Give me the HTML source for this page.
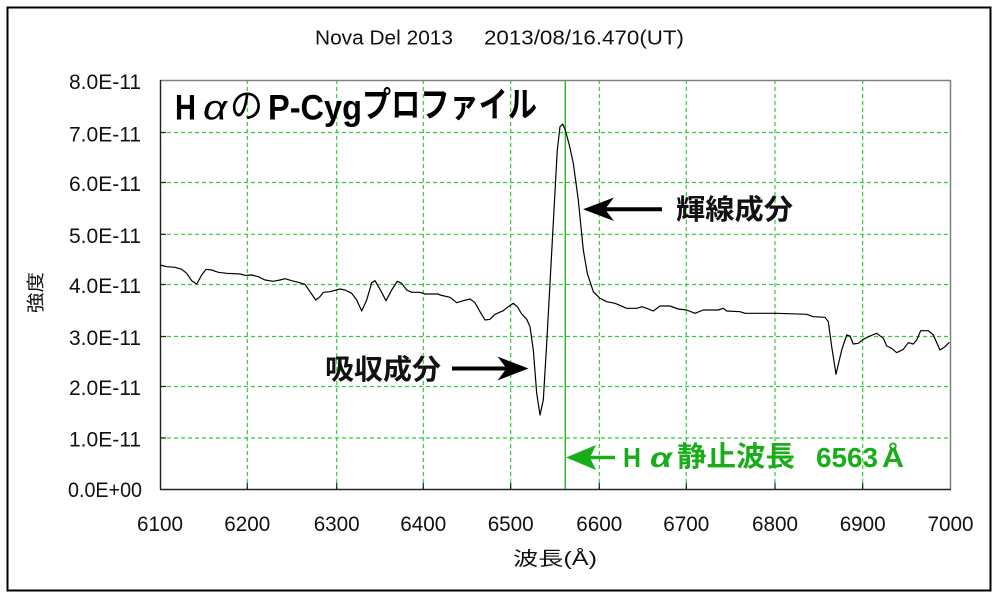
<!DOCTYPE html>
<html><head><meta charset="utf-8"><style>
html,body{margin:0;padding:0;background:#fff;}
svg{display:block;}
text{font-family:"Liberation Sans","Noto Sans CJK JP",sans-serif;}
</style></head><body>
<svg width="1000" height="600" viewBox="0 0 1000 600" xmlns="http://www.w3.org/2000/svg">
<rect x="0" y="0" width="1000" height="600" fill="#fff"/>
<rect x="7.5" y="7.5" width="983" height="583" fill="none" stroke="#000" stroke-width="2"/>

<!-- header -->
<text x="315" y="44.5" font-size="20" textLength="138" lengthAdjust="spacingAndGlyphs" fill="#111">Nova Del 2013</text>
<text x="484" y="44.5" font-size="20" textLength="200" lengthAdjust="spacingAndGlyphs" fill="#111">2013/08/16.470(UT)</text>

<!-- grid -->
<g stroke="#33cc33" stroke-width="1.2" stroke-dasharray="4,3" fill="none">
<line x1="160" y1="132.5" x2="950" y2="132.5"/>
<line x1="160" y1="182.5" x2="950" y2="182.5"/>
<line x1="160" y1="234.3" x2="950" y2="234.3"/>
<line x1="160" y1="284.5" x2="950" y2="284.5"/>
<line x1="160" y1="336.5" x2="950" y2="336.5"/>
<line x1="160" y1="386.5" x2="950" y2="386.5"/>
<line x1="160" y1="438" x2="950" y2="438"/>
<line x1="247.3" y1="80" x2="247.3" y2="489"/>
<line x1="336.7" y1="80" x2="336.7" y2="489"/>
<line x1="423.3" y1="80" x2="423.3" y2="489"/>
<line x1="510.7" y1="80" x2="510.7" y2="489"/>
<line x1="599.3" y1="80" x2="599.3" y2="489"/>
<line x1="686.3" y1="80" x2="686.3" y2="489"/>
<line x1="775" y1="80" x2="775" y2="489"/>
<line x1="862.7" y1="80" x2="862.7" y2="489"/>
</g>

<!-- frame -->
<line x1="160" y1="80.5" x2="950.5" y2="80.5" stroke="#808080" stroke-width="1.5"/>
<line x1="950.5" y1="80" x2="950.5" y2="489" stroke="#808080" stroke-width="1.5"/>
<line x1="160.5" y1="80" x2="160.5" y2="489.5" stroke="#222" stroke-width="1.4"/>
<line x1="160" y1="489.5" x2="951" y2="489.5" stroke="#222" stroke-width="1.4"/>

<!-- ticks -->
<g stroke="#222" stroke-width="1.2">
<line x1="160" y1="132.5" x2="166" y2="132.5"/>
<line x1="160" y1="182.5" x2="166" y2="182.5"/>
<line x1="160" y1="234.3" x2="166" y2="234.3"/>
<line x1="160" y1="284.5" x2="166" y2="284.5"/>
<line x1="160" y1="336.5" x2="166" y2="336.5"/>
<line x1="160" y1="386.5" x2="166" y2="386.5"/>
<line x1="160" y1="438" x2="166" y2="438"/>
<line x1="247.3" y1="483" x2="247.3" y2="489"/>
<line x1="336.7" y1="483" x2="336.7" y2="489"/>
<line x1="423.3" y1="483" x2="423.3" y2="489"/>
<line x1="510.7" y1="483" x2="510.7" y2="489"/>
<line x1="599.3" y1="483" x2="599.3" y2="489"/>
<line x1="686.3" y1="483" x2="686.3" y2="489"/>
<line x1="775" y1="483" x2="775" y2="489"/>
<line x1="862.7" y1="483" x2="862.7" y2="489"/>
</g>

<!-- H-alpha rest line -->
<line x1="565.3" y1="80" x2="565.3" y2="489" stroke="#22bb22" stroke-width="1.4"/>

<!-- spectrum -->
<polyline fill="none" stroke="#000" stroke-width="1.2" stroke-linejoin="round" points="
160,265 166.7,266.7 175,267.3 181.7,269.3 186.7,273.3 191.7,280.7 196.7,284 201.7,275 206,269.3 211.7,270 218.3,272.3 226.7,273.3 240,274 245,275.3 251.7,275 258.3,276.7 265,280 273.3,281.3 280,280 285,278.7 291.7,280.7 298.3,282.3 305,284.3 310,291.7 315.7,300 320,296.7 323.3,292.3 330,291.7 340,289 345,290 351.7,293.3 356.7,300 361.7,311 366.7,300 371.7,282.7 375,280.7 380,289.3 386,300.7 391.7,290 397.3,281.3 401.7,283.3 406.7,290 411.7,292.3 420,292.3 425,294 438.3,294 440,295 450,297.3 456.7,302.7 463.3,300.7 470,299 475,302.7 480,311.7 485,320 490,319.3 495,314.3 503.3,310.7 508.3,306.7 513.3,303.3 517.3,306.7 521.7,314 526.7,319.3 530,326.7 533.3,350 536.7,393.3 540,415 543.3,400 546.7,343.3 550,283.3 554,210 557.3,150 560,126.7 562.7,124 565.3,130 569.3,145 573.3,163.3 578.3,200 583.3,250 587.3,273.3 593.3,291.7 600,298.3 606.7,301.7 615,303.3 626.7,308.3 636.7,308.3 641.7,306.7 646.7,308.3 653.3,311 660,306 670,306 678.3,309 686.7,310 695,313.3 703.3,310 718.3,310 723.3,308.3 726.7,311 740,311.7 745,313.3 776.7,313.3 806.7,314.3 813.3,316.7 825,317.3 828.3,321.7 831.7,346.7 836,374.3 841.7,350 846.7,335 850,336 853.3,344 858.3,343.3 863.3,339.3 870,336 876.7,333.3 883.3,338.3 886.7,346 891.7,348.3 896.7,352.7 903.3,349.3 908.3,342.7 913.3,344 916.7,340 920.7,330.7 928.3,330.7 933.3,335 940,350 945,346.7 949.3,342.3"/>

<!-- y tick labels -->
<g font-size="21" fill="#111" text-anchor="end">
<text x="141" y="89" textLength="72" lengthAdjust="spacingAndGlyphs">8.0E-11</text>
<text x="141" y="141.5" textLength="72" lengthAdjust="spacingAndGlyphs">7.0E-11</text>
<text x="141" y="191" textLength="72" lengthAdjust="spacingAndGlyphs">6.0E-11</text>
<text x="141" y="243" textLength="72" lengthAdjust="spacingAndGlyphs">5.0E-11</text>
<text x="141" y="293" textLength="72" lengthAdjust="spacingAndGlyphs">4.0E-11</text>
<text x="141" y="345" textLength="72" lengthAdjust="spacingAndGlyphs">3.0E-11</text>
<text x="141" y="395" textLength="72" lengthAdjust="spacingAndGlyphs">2.0E-11</text>
<text x="141" y="446.5" textLength="72" lengthAdjust="spacingAndGlyphs">1.0E-11</text>
<text x="142" y="497" textLength="74" lengthAdjust="spacingAndGlyphs">0.0E+00</text>
</g>

<!-- x tick labels -->
<g font-size="21" fill="#111" text-anchor="middle">
<text x="160" y="531" textLength="46" lengthAdjust="spacingAndGlyphs">6100</text>
<text x="247.3" y="531" textLength="46" lengthAdjust="spacingAndGlyphs">6200</text>
<text x="336.7" y="531" textLength="46" lengthAdjust="spacingAndGlyphs">6300</text>
<text x="423.3" y="531" textLength="46" lengthAdjust="spacingAndGlyphs">6400</text>
<text x="510.7" y="531" textLength="46" lengthAdjust="spacingAndGlyphs">6500</text>
<text x="599.3" y="531" textLength="46" lengthAdjust="spacingAndGlyphs">6600</text>
<text x="686.3" y="531" textLength="46" lengthAdjust="spacingAndGlyphs">6700</text>
<text x="775" y="531" textLength="46" lengthAdjust="spacingAndGlyphs">6800</text>
<text x="862.7" y="531" textLength="46" lengthAdjust="spacingAndGlyphs">6900</text>
<text x="950.5" y="531" textLength="46" lengthAdjust="spacingAndGlyphs">7000</text>
</g>

<!-- axis titles -->
<text x="513" y="565" font-size="19" fill="#111" textLength="84" lengthAdjust="spacingAndGlyphs">波長(Å)</text>
<text transform="translate(42,313) rotate(-90)" x="0" y="0" font-size="18" fill="#111" textLength="41" lengthAdjust="spacingAndGlyphs">強度</text>

<!-- main title -->
<g font-size="35" font-weight="bold" fill="#000">
<text x="175" y="119.5" textLength="21" lengthAdjust="spacingAndGlyphs">H</text>
<text x="203" y="119.5" textLength="24" lengthAdjust="spacingAndGlyphs" font-style="italic" font-weight="normal">α</text>
<text x="230" y="118" textLength="33" lengthAdjust="spacingAndGlyphs" font-weight="normal">の</text>
<text x="268" y="119.5" textLength="94" lengthAdjust="spacingAndGlyphs">P-Cyg</text>
<text x="362" y="117" textLength="175" lengthAdjust="spacingAndGlyphs">プロファイル</text>
</g>

<!-- emission annotation -->
<text x="676" y="219" font-size="28" font-weight="bold" fill="#111" textLength="117" lengthAdjust="spacingAndGlyphs">輝線成分</text>
<line x1="604" y1="209.3" x2="662" y2="209.3" stroke="#000" stroke-width="4"/>
<polygon points="583,209.3 614,197.5 605,209.3 614,221" fill="#000"/>

<!-- absorption annotation -->
<text x="325" y="379" font-size="28" font-weight="bold" fill="#111" textLength="116" lengthAdjust="spacingAndGlyphs">吸収成分</text>
<line x1="452" y1="368.5" x2="508" y2="368.5" stroke="#000" stroke-width="4"/>
<polygon points="528.5,368.5 497.5,356.5 506.5,368.5 497.5,380.5" fill="#000"/>

<!-- green annotation -->
<line x1="590" y1="457.5" x2="615" y2="457.5" stroke="#1aad1a" stroke-width="3.5"/>
<polygon points="566,457.5 596,445 590,457.5 596,470" fill="#1aad1a"/>
<g fill="#1aad1a" font-size="28" font-weight="bold">
<text x="623" y="467" textLength="18" lengthAdjust="spacingAndGlyphs">H</text>
<text x="650" y="467" textLength="22" lengthAdjust="spacingAndGlyphs" font-style="italic">α</text>
<text x="677" y="466" textLength="118" lengthAdjust="spacingAndGlyphs">静止波長</text>
<text x="816" y="467" textLength="62" lengthAdjust="spacingAndGlyphs">6563</text>
<text x="882" y="467" textLength="22" lengthAdjust="spacingAndGlyphs">Å</text>
</g>
</svg>
</body></html>
